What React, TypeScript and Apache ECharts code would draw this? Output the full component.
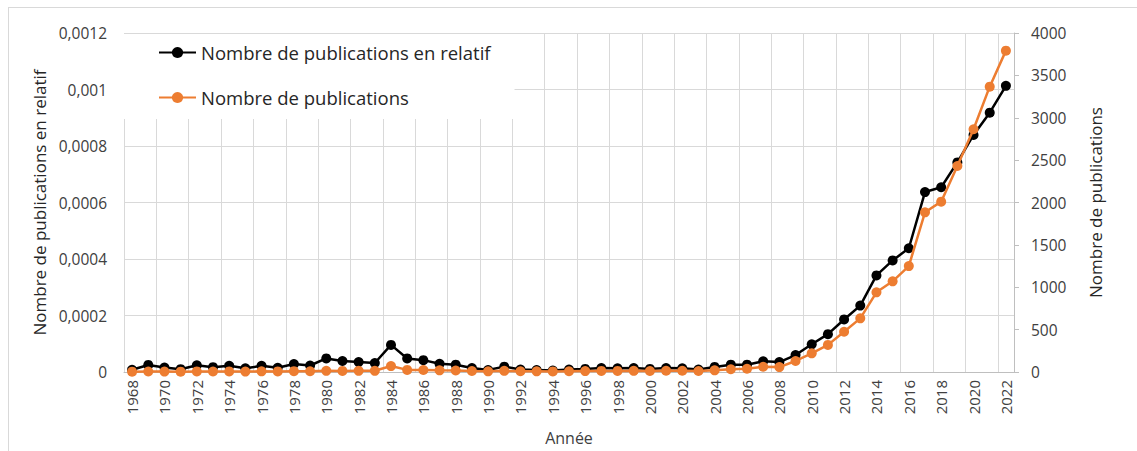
import React, { useEffect, useRef } from "react";
import * as echarts from "echarts";

const years: string[] = [];
for (let y = 1968; y <= 2022; y++) years.push(String(y));

const relative: number[] = [
  0.8e-5, 2.5e-5, 1.6e-5, 1.0e-5, 2.4e-5, 1.7e-5, 2.2e-5, 1.3e-5, 2.2e-5, 1.5e-5,
  2.8e-5, 2.3e-5, 4.8e-5, 3.9e-5, 3.5e-5, 3.2e-5, 9.6e-5, 4.8e-5, 4.2e-5, 2.9e-5,
  2.6e-5, 1.4e-5, 0.7e-5, 1.9e-5, 0.9e-5, 0.7e-5, 0.5e-5, 0.9e-5, 1.1e-5, 1.4e-5,
  1.3e-5, 1.4e-5, 1.1e-5, 1.4e-5, 1.3e-5, 0.9e-5, 1.8e-5, 2.6e-5, 2.6e-5, 3.8e-5,
  3.5e-5, 6.0e-5, 9.8e-5, 1.34e-4, 1.86e-4, 2.35e-4, 3.42e-4, 3.95e-4, 4.38e-4, 6.37e-4,
  6.54e-4, 7.42e-4, 8.39e-4, 9.18e-4, 1.013e-3,
];

const publications: number[] = [
  4, 6, 5, 4, 7, 6, 7, 5, 8, 7,
  10, 9, 14, 13, 14, 14, 70, 25, 24, 20,
  18, 12, 8, 14, 9, 8, 7, 9, 11, 13,
  13, 14, 12, 15, 15, 12, 20, 32, 38, 62,
  58, 130, 220, 320, 475, 633, 940, 1070, 1250, 1884,
  2010, 2431, 2864, 3367, 3792,
];

const leftTicks = { min: 0, max: 0.0012, interval: 0.0002 };
const rightTicks = { min: 0, max: 4000, interval: 500 };
const yearGridStep = 2;

const FONT = "Open Sans";
const everyOther = (i: number) => i % 2 === 0;

export default function App() {
  const ref = useRef<HTMLDivElement>(null);
  useEffect(() => {
    if (!ref.current) return;
    const chart = echarts.init(ref.current, undefined, { renderer: "svg" });
    chart.setOption({
      animation: false,
      textStyle: { fontFamily: FONT },
      graphic: [
        { type: "line", shape: { x1: 8, y1: 7.5, x2: 1137, y2: 7.5 }, style: { stroke: "#d9d9d9", lineWidth: 1 } },
        { type: "line", shape: { x1: 8.5, y1: 7, x2: 8.5, y2: 451 }, style: { stroke: "#d9d9d9", lineWidth: 1 } },
      ],
      grid: { left: 124, top: 33, right: 123, bottom: 79, containLabel: false },
      legend: {
        left: 124,
        top: 34,
        orient: "vertical",
        backgroundColor: "#ffffff",
        padding: [9, 24, 12, 34],
        itemGap: 26,
        itemWidth: 37,
        itemHeight: 14,
        textStyle: { fontFamily: FONT, fontSize: 18.5, color: "#262626", padding: [0, 0, 0, 0] },
        data: ["Nombre de publications en relatif", "Nombre de publications"],
      },
      xAxis: [
        {
          type: "category",
          data: years,
          boundaryGap: true,
          name: "Année",
          nameLocation: "middle",
          nameGap: 58,
          nameTextStyle: { fontFamily: FONT, fontSize: 16, color: "#404040" },
          axisLine: { show: true, lineStyle: { color: "#bfbfbf", width: 1 } },
          axisTick: { show: false },
          axisLabel: { interval: everyOther, rotate: 90, margin: 8, fontFamily: FONT, fontSize: 15, color: "#404040" },
          splitLine: { show: false },
          z: 3,
        },
        {
          type: "value",
          position: "bottom",
          min: 0,
          max: years.length,
          interval: yearGridStep,
          show: true,
          axisLine: { show: false },
          axisTick: { show: false },
          axisLabel: { show: false },
          splitLine: { show: true, lineStyle: { color: "#d9d9d9", width: 1 } },
        },
      ],
      yAxis: [
        {
          type: "value",
          min: leftTicks.min,
          max: leftTicks.max,
          interval: leftTicks.interval,
          name: "Nombre de publications en relatif",
          nameLocation: "middle",
          nameGap: 71,
          nameTextStyle: { fontFamily: FONT, fontSize: 17, color: "#262626" },
          axisLine: { show: false },
          axisTick: { show: false },
          axisLabel: {
            margin: 17,
            fontFamily: FONT,
            fontSize: 15.5,
            color: "#404040",
            formatter: (v: number) => (v === 0 ? "0" : String(parseFloat(v.toFixed(6))).replace(".", ",")),
          },
          splitLine: { show: true, lineStyle: { color: "#d9d9d9", width: 1 } },
        },
        {
          type: "value",
          position: "right",
          min: rightTicks.min,
          max: rightTicks.max,
          interval: rightTicks.interval,
          name: "Nombre de publications",
          nameLocation: "middle",
          nameGap: 73,
          nameTextStyle: { fontFamily: FONT, fontSize: 17, color: "#262626" },
          axisLine: { show: true, lineStyle: { color: "#bfbfbf", width: 1 } },
          axisTick: { show: true, length: 5, inside: false, lineStyle: { color: "#bfbfbf" } },
          axisLabel: { margin: 17, fontFamily: FONT, fontSize: 15.5, color: "#404040", formatter: (v: number) => String(v) },
          splitLine: { show: false },
        },
      ],
      series: [
        {
          name: "Nombre de publications en relatif",
          type: "line",
          xAxisIndex: 0,
          yAxisIndex: 0,
          data: relative,
          symbol: "circle",
          symbolSize: 10,
          lineStyle: { color: "#000000", width: 2.5 },
          itemStyle: { color: "#000000" },
          z: 2,
        },
        {
          name: "Nombre de publications",
          type: "line",
          xAxisIndex: 0,
          yAxisIndex: 1,
          data: publications,
          symbol: "circle",
          symbolSize: 10,
          lineStyle: { color: "#ED7D31", width: 2.5 },
          itemStyle: { color: "#ED7D31" },
          z: 3,
        },
      ],
    });
    return () => chart.dispose();
  }, []);
  return <div ref={ref} style={{ position: "absolute", left: 0, top: 0, width: 1137, height: 451 }} />;
}
